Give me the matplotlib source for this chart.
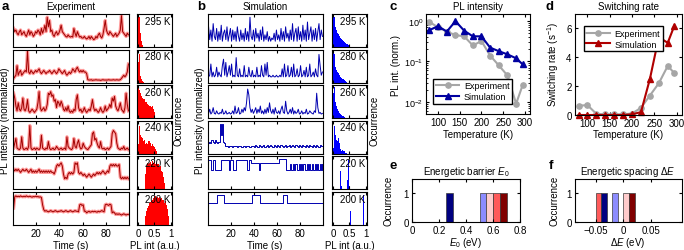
import numpy as np
import matplotlib
matplotlib.use("Agg")
import matplotlib.pyplot as plt

plt.rcParams['font.family'] = ['Liberation Sans', 'DejaVu Sans']
plt.rcParams['font.size'] = 7
plt.rcParams['mathtext.fontset'] = 'custom'
plt.rcParams['mathtext.rm'] = 'Liberation Sans'
plt.rcParams['mathtext.it'] = 'Liberation Sans:italic'
plt.rcParams['axes.linewidth'] = 0.8
plt.rcParams['xtick.direction'] = 'in'
plt.rcParams['ytick.direction'] = 'in'
plt.rcParams['xtick.major.size'] = 2
plt.rcParams['ytick.major.size'] = 2
plt.rcParams['xtick.minor.size'] = 1.2
plt.rcParams['ytick.minor.size'] = 1.2
plt.rcParams['xtick.major.pad'] = 2.5
plt.rcParams['ytick.major.pad'] = 2.5

# ---------------- data ----------------
row_labels = ['295 K', '280 K', '260 K', '240 K', '220 K', '200 K']

# experiment traces (normalized PL, 1 s samples)
exp_295 = [0.55,0.45,0.5,0.4,0.35,0.45,0.5,0.35,0.4,0.45, 0.35,0.3,0.4,0.5,0.35,0.45,0.4,0.3,0.35,0.45,
           0.4,0.5,0.45,0.35,0.55,0.4,0.5,0.65,0.45,0.9, 0.6,0.8,0.45,0.5,0.35,0.3,0.4,0.45,0.35,0.4,
           0.5,0.65,0.45,0.4,0.35,0.3,0.28,0.35,0.3,0.28, 0.3,0.28,0.55,0.4,0.3,0.45,0.35,0.28,0.3,0.25,
           0.25,0.3,0.25,0.22,0.25,0.3,0.22,0.3,0.25,0.2, 0.22,0.3,0.25,0.35,0.4,0.3,0.25,0.35,0.55,0.8,
           0.5,0.4,0.35,0.45,0.4,0.35,0.3,0.35,0.4,0.3, 0.35,0.4,0.5,0.95,0.45,0.4,0.35,0.3,0.4,0.35]
exp_280 = [0.1,0.15,0.2,0.5,0.2,0.3,0.35,0.2,0.25,0.3, 0.35,0.3,0.95,0.3,0.25,0.35,0.3,0.25,0.3,0.35,
           0.3,0.35,0.4,0.3,0.25,0.3,0.35,0.3,0.25,0.3, 0.3,0.35,0.3,0.25,0.3,0.35,0.3,0.25,0.3,0.4,
           0.35,0.3,0.25,0.3,0.35,0.25,0.2,0.25,0.3,0.25, 0.3,0.4,0.35,0.3,0.4,0.45,0.35,0.3,0.35,0.3,
           0.35,0.3,0.3,0.25,0.06,0.05,0.05,0.06,0.04,0.05, 0.05,0.06,0.05,0.05,0.05,0.04,0.05,0.06,0.05,0.05,
           0.05,0.05,0.06,0.05,0.05,0.05,0.06,0.05,0.05,0.06, 0.05,0.05,0.06,0.1,0.15,0.2,0.15,0.2,0.3,0.55]
exp_260 = [0.75,0.6,0.35,0.2,0.45,0.25,0.2,0.3,0.6,0.25, 0.2,0.3,0.55,0.2,0.15,0.2,0.25,0.2,0.15,0.2,
           0.25,0.45,0.8,0.3,0.2,0.25,0.3,0.2,0.25,0.4, 0.75,0.7,0.8,0.65,0.7,0.5,0.55,0.3,0.5,0.45,
           0.35,0.5,0.4,0.25,0.2,0.3,0.2,0.35,0.2,0.15, 0.2,0.15,0.25,0.2,0.55,0.7,0.3,0.2,0.25,0.15,
           0.2,0.3,0.2,0.15,0.2,0.25,0.2,0.35,0.55,0.3, 0.2,0.25,0.2,0.15,0.2,0.3,0.2,0.15,0.2,0.35,
           0.2,0.25,0.3,0.4,0.3,0.6,0.5,0.65,0.35,0.25, 0.2,0.3,0.45,0.25,0.2,0.15,0.3,0.75,0.4,0.2]
exp_240 = [0.15,0.3,0.45,0.15,0.12,0.1,0.15,0.5,0.15,0.1, 0.12,0.15,0.1,0.2,0.85,0.15,0.1,0.12,0.15,0.1,
           0.15,0.12,0.1,0.15,0.55,0.15,0.12,0.1,0.15,0.12, 0.35,0.15,0.1,0.12,0.15,0.1,0.12,0.2,0.15,0.1,
           0.12,0.15,0.1,0.12,0.15,0.1,0.5,0.2,0.15,0.12, 0.1,0.15,0.45,0.2,0.15,0.3,0.4,0.2,0.12,0.15,
           0.3,0.2,0.15,0.12,0.1,0.15,0.2,0.25,0.6,0.65, 0.4,0.45,0.3,0.2,0.15,0.35,0.15,0.12,0.15,0.1,
           0.12,0.15,0.1,0.15,0.2,0.6,0.7,0.65,0.6,0.3, 0.15,0.12,0.1,0.15,0.12,0.2,0.1,0.12,0.15,0.1]
exp_220 = [0.6,0.55,0.6,0.55,0.6,0.55,0.5,0.55,0.6,0.55, 0.55,0.6,0.55,0.5,0.55,0.6,0.5,0.55,0.5,0.55,
           0.5,0.55,0.6,0.5,0.55,0.5,0.55,0.5,0.55,0.5, 0.55,0.5,0.55,0.5,0.5,0.45,0.55,0.7,0.75,0.7,
           0.75,0.8,0.7,0.45,0.3,0.35,0.3,0.45,0.5,0.45, 0.5,0.45,0.5,0.8,0.75,0.8,0.5,0.45,0.5,0.45,
           0.4,0.45,0.4,0.35,0.4,0.45,0.4,0.35,0.4,0.45, 0.4,0.45,0.5,0.45,0.5,0.45,0.5,0.55,0.5,0.45,
           0.5,0.55,0.5,0.7,0.75,0.7,0.75,0.7,0.75,0.7, 0.7,0.75,0.35,0.3,0.35,0.3,0.35,0.3,0.35,0.3]
exp_200 = [0.5,0.85,0.88,0.85,0.87,0.85,0.88,0.86,0.85,0.87, 0.85,0.88,0.86,0.85,0.87,0.85,0.84,0.86,0.85,0.87,
           0.85,0.86,0.84,0.85,0.83,0.6,0.45,0.4,0.42,0.4, 0.38,0.4,0.42,0.4,0.38,0.4,0.42,0.4,0.38,0.4,
           0.4,0.42,0.4,0.38,0.4,0.42,0.4,0.38,0.4,0.42, 0.4,0.38,0.4,0.42,0.4,0.4,0.38,0.6,0.62,0.58,
           0.6,0.4,0.4,0.35,0.38,0.4,0.37,0.38,0.4,0.38, 0.4,0.38,0.37,0.4,0.38,0.4,0.42,0.4,0.38,0.6,
           0.62,0.6,0.58,0.62,0.6,0.35,0.38,0.35,0.3,0.32, 0.3,0.32,0.3,0.28,0.3,0.32,0.3,0.28,0.3,0.3]

# simulation traces
sim_295 = [0.6,0.2,0.5,0.15,0.7,0.3,0.2,0.55,0.15,0.45, 0.2,0.65,0.15,0.4,0.5,0.2,0.6,0.15,0.35,0.55,
           0.15,0.5,0.2,0.45,0.15,0.6,0.3,0.15,0.5,0.2, 0.4,0.15,0.55,0.2,0.45,0.15,0.9,0.3,0.2,0.5,
           0.15,0.55,0.25,0.4,0.15,0.5,0.2,0.6,0.15,0.35, 0.2,0.45,0.15,0.3,0.15,0.25,0.2,0.4,0.15,0.5,
           0.2,0.35,0.15,0.55,0.2,0.45,0.15,0.6,0.25,0.4, 0.15,0.5,0.2,0.7,0.15,0.4,0.55,0.15,0.6,0.2,
           0.45,0.15,0.65,0.2,0.5,0.15,0.75,0.2,0.4,0.6, 0.15,0.5,0.2,0.55,0.15,0.45,0.7,0.2,0.5,0.3]
sim_280 = [0.15,0.2,0.55,0.15,0.3,0.15,0.2,0.45,0.15,0.3, 0.2,0.15,0.5,0.7,0.2,0.6,0.15,0.3,0.5,0.2,
           0.55,0.15,0.2,0.15,0.75,0.2,0.15,0.4,0.15,0.2, 0.15,0.5,0.15,0.2,0.15,0.45,0.2,0.15,0.35,0.15,
           0.2,0.15,0.45,0.15,0.2,0.15,0.5,0.2,0.15,0.55, 0.2,0.6,0.15,0.2,0.15,0.15,0.2,0.15,0.15,0.2,
           0.15,0.15,0.2,0.15,0.4,0.15,0.55,0.15,0.2,0.5, 0.15,0.2,0.45,0.15,0.55,0.15,0.2,0.4,0.15,0.2,
           0.5,0.15,0.2,0.35,0.15,0.45,0.15,0.2,0.55,0.15, 0.2,0.3,0.15,0.4,0.2,0.15,0.85,0.5,0.2,0.3]
sim_260 = [0.12,0.25,0.1,0.15,0.3,0.12,0.1,0.2,0.12,0.1, 0.15,0.12,0.25,0.1,0.12,0.2,0.1,0.12,0.15,0.1,
           0.12,0.2,0.1,0.35,0.12,0.15,0.3,0.1,0.12,0.25, 0.15,0.3,0.2,0.45,0.88,0.7,0.3,0.15,0.25,0.12,
           0.2,0.3,0.12,0.25,0.15,0.35,0.12,0.2,0.1,0.25, 0.12,0.3,0.15,0.45,0.2,0.12,0.25,0.1,0.3,0.15,
           0.12,0.2,0.1,0.25,0.35,0.15,0.12,0.5,0.2,0.1, 0.15,0.25,0.12,0.3,0.1,0.2,0.12,0.15,0.25,0.1,
           0.12,0.2,0.1,0.15,0.12,0.25,0.1,0.12,0.2,0.15, 0.12,0.1,0.2,0.15,0.75,0.3,0.12,0.15,0.1,0.12]
sim_240 = [0.3,0.35,0.3,0.4,0.35,0.3,0.4,0.35,0.3,0.35, 0.9,0.55,0.9,0.35,0.3,0.2,0.22,0.18,0.2,0.22,
           0.2,0.18,0.2,0.22,0.2,0.18,0.2,0.2,0.22,0.18, 0.2,0.2,0.18,0.22,0.2,0.2,0.18,0.2,0.22,0.2,
           0.18,0.25,0.2,0.18,0.25,0.2,0.18,0.2,0.25,0.18, 0.2,0.25,0.18,0.2,0.25,0.2,0.18,0.25,0.2,0.18,
           0.25,0.2,0.18,0.25,0.2,0.18,0.2,0.25,0.18,0.2, 0.25,0.18,0.2,0.25,0.2,0.18,0.25,0.2,0.18,0.25,
           0.2,0.18,0.25,0.2,0.18,0.25,0.2,0.18,0.25,0.2, 0.18,0.25,0.2,0.18,0.25,0.2,0.18,0.25,0.2,0.2]
sim_220 = [0.9,0.9,0.9,0.58,0.9,0.9,0.58,0.58,0.58,0.58, 0.58,0.9,0.9,0.9,0.9,0.9,0.9,0.9,0.58,0.9,
           0.9,0.9,0.58,0.58,0.9,0.9,0.9,0.9,0.9,0.9, 0.9,0.9,0.9,0.9,0.58,0.58,0.9,0.78,0.78,0.78,
           0.78,0.78,0.78,0.78,0.58,0.78,0.78,0.78,0.78,0.78, 0.78,0.78,0.78,0.78,0.78,0.78,0.78,0.78,0.78,0.78,
           0.78,0.78,0.92,0.92,0.92,0.92,0.92,0.92,0.58,0.58, 0.58,0.75,0.58,0.58,0.75,0.58,0.75,0.58,0.58,0.75,
           0.58,0.75,0.58,0.75,0.58,0.58,0.75,0.58,0.75,0.58, 0.75,0.58,0.58,0.75,0.58,0.75,0.58,0.75,0.58,0.75]
sim_200 = [0.65,0.65,0.65,0.65,0.65,0.65,0.65,0.65,0.9,0.9, 0.9,0.9,0.9,0.9,0.65,0.65,0.65,0.65,0.65,0.65,
           0.65,0.65,0.65,0.65,0.65,0.65,0.65,0.65,0.65,0.65, 0.65,0.65,0.65,0.65,0.65,0.65,0.65,0.65,0.9,0.9,
           0.9,0.9,0.9,0.9,0.9,0.65,0.65,0.65,0.65,0.65, 0.65,0.65,0.65,0.65,0.65,0.65,0.65,0.65,0.65,0.65,
           0.65,0.65,0.65,0.65,0.65,0.9,0.9,0.9,0.9,0.65, 0.65,0.65,0.65,0.65,0.65,0.65,0.65,0.65,0.65,0.65,
           0.65,0.65,0.65,0.65,0.65,0.65,0.65,0.65,0.65,0.65, 0.65,0.65,0.65,0.65,0.65,0.65,0.65,0.65,0.65,0.65]

# histograms of PL intensity, bins of 0.025 starting at 0
hist_bin = 0.025
exp_hist_295 = [1.0,0.95,0.7,0.45,0.2,0.05]
exp_hist_280 = [0.65,0.9,0.4,0.2,0.1,0.05,0.02]
exp_hist_260 = [0.95,0.9,0.85,0.8,0.7,0.65,0.6,0.62,0.55,0.5,0.5,0.45,0.42,0.45,0.4,0.38,0.35,0.38,0.3,0.35,0.2]
exp_hist_240 = [0.3,0.9,0.85,0.6,0.55,0.5,0.4,0.45,0.35,0.3,0.35,0.3,0.4,0.38,0.42,0.35,0.25,0.3,0.25,0.2,0.22,0.15,0.1]
exp_hist_220 = [0,0,0,0,0,0,0,0,0.1,0.5,0.75,0.85,0.8,0.9,0.85,0.88,0.82,0.9,0.85,0.8,0.88,0.82,0.85,0.8,
                0.75,0.8,0.7,0.75,0.6,0.55,0.45,0.4,0.2]
exp_hist_200 = [0,0,0,0,0,0,0,0,0.15,0.3,0.45,0.55,0.6,0.65,0.7,0.72,0.75,0.8,0.85,0.9,0.88,0.92,0.85,0.9,
                0.88,0.85,0.9,0.82,0.85,0.8,0.75,0.78,0.7,0.75,0.65,0.6,0.5,0.3]
sim_hist_295 = [1.0,0.95,0.8,0.65,0.55,0.45,0.4,0.35,0.3,0.28,0.25,0.22,0.2,0.18,0.15,0.12,0.1,0.08,0.05,0.03]
sim_hist_280 = [1.0,0.9,0.7,0.5,0.4,0.35,0.3,0.25,0.2,0.18,0.15,0.12,0.1,0.1,0.08,0.05,0.03]
sim_hist_260 = [0.8,1.0,0.75,0.5,0.4,0.3,0.22,0.18,0.15,0.12,0.1,0.08,0.06,0.05,0.03,0.02]
sim_hist_240 = [0.2,0.9,0.55,0.6,0.45,0.4,0.5,0.35,0.3,0.15,0.1,0.12,0.08,0.05,0.08,0.03,0.02]
sim_hist_220 = [0,0,0,0,0,0,0,0,0.15,0.6,0.1,0,0,0,0,0,0,0.3,0.95,0.5,0.1]
sim_hist_200 = [0,0,0,0,0,0,0,0,0,0,0,0,0,0,0,0,0,0,0,0,0,0.45,0,0,0,0,0,0,0,0,0,0,0,0,0,0,0,0.95]

exp_traces = [exp_295, exp_280, exp_260, exp_240, exp_220, exp_200]
sim_traces = [sim_295, sim_280, sim_260, sim_240, sim_220, sim_200]
exp_hists = [exp_hist_295, exp_hist_280, exp_hist_260, exp_hist_240, exp_hist_220, exp_hist_200]
sim_hists = [sim_hist_295, sim_hist_280, sim_hist_260, sim_hist_240, sim_hist_220, sim_hist_200]

# temperature dependence
temperature = [80, 100, 120, 140, 160, 180, 200, 220, 240, 260, 280, 295]
pl_exp = [0.95, 0.7, 0.55, 0.45, 0.42, 0.25, 0.32, 0.14, 0.08, 0.045, 0.009, 0.026]
pl_sim = [0.6, 0.75, 0.55, 1.0, 0.58, 0.42, 0.42, 0.22, 0.18, 0.15, 0.12, 0.085]
rate_exp = [0.65, 0.68, 0.08, 0.05, 0.05, 0.05, 0.1, 0.5, 1.35, 2.2, 3.4, 2.9]
rate_sim = [0, 0, 0, 0, 0, 0, 0.05, 0.2, 2.5, 5.4, 5.0, 6.2]

# fitted energies
e0_left = [0.25, 0.50, 0.55, 0.60, 0.65]
e0_count = [1, 1, 1, 1, 1]
e0_colors = ['#000080', '#8c8cff', '#ffcccc', '#ff5a5a', '#800000']
de_left = [-0.05, -0.04, -0.02, 0.0, 0.01]
de_count = [1, 1, 1, 1, 1]
de_colors = ['#ff5a5a', '#000080', '#8c8cff', '#ffcccc', '#800000']

# ---------------- layout helpers ----------------
W, H = 684, 251
fig = plt.figure(figsize=(W / 100, H / 100), dpi=100)


def add_ax(l, t, r, b):
    return fig.add_axes([l / W, 1 - b / H, (r - l) / W, (b - t) / H])


def ftext(x, y, s, **kw):
    fig.text(x / W, 1 - y / H, s, **kw)


time = np.arange(100) + 0.5
row_h = 33
row_step = 35.6


def trace_column(x0, x1, hx0, hx1, traces, hists, line_col, raw_col, hist_col, step_rows):
    for i in range(6):
        top = 15 + i * row_step
        bot = top + row_h
        ax = add_ax(x0, top, x1, bot)
        y = traces[i]
        if raw_col is not None:
            ax.plot(time, y, color=raw_col, lw=2.4, solid_joinstyle='round')
            ax.plot(time, y, color=line_col, lw=0.7)
        else:
            ax.plot(time, y, color=line_col, lw=0.7,
                    drawstyle='steps-mid' if i in step_rows else 'default')
        ax.set_xlim(0, 100)
        ax.set_ylim(-0.03, 1.0)
        ax.set_xticks([20, 40, 60, 80])
        ax.set_yticks([])
        ax.tick_params(top=True, right=True, labelsize=7)
        if i < 5:
            ax.set_xticklabels([])

        hx = add_ax(hx0, top, hx1, bot)
        h = hists[i]
        centers = (np.arange(len(h)) + 0.5) * hist_bin
        hx.bar(centers, h, width=hist_bin, color=hist_col, lw=0)
        hx.set_xlim(-0.03, 1.04)
        hx.set_ylim(0, 1.05)
        hx.set_xticks([0, 0.5, 1])
        hx.set_xticklabels(['0', '0.5', '1'])
        hx.set_yticks([])
        hx.tick_params(top=True, labelsize=7)
        if i < 5:
            hx.set_xticklabels([])
        hx.text(0.6, 0.8, row_labels[i], transform=hx.transAxes,
                ha='center', va='center', fontsize=7)


trace_column(13, 129, 137, 172, exp_traces, exp_hists,
             '#a00000', '#ff9c9c', '#ff0000', [])
trace_column(208, 323, 332, 367, sim_traces, sim_hists,
             '#0000b0', None, '#0000ff', [3, 4, 5])

# column labels
ftext(71, 7, 'Experiment', ha='center', va='center', fontsize=7)
ftext(265, 7, 'Simulation', ha='center', va='center', fontsize=7)
ftext(71, 246, 'Time (s)', ha='center', va='center', fontsize=7)
ftext(265, 246, 'Time (s)', ha='center', va='center', fontsize=7)
ftext(155, 246, 'PL int (a.u.)', ha='center', va='center', fontsize=7)
ftext(350, 246, 'PL int (a.u.)', ha='center', va='center', fontsize=7)
ftext(5, 121, 'PL intensity (normalized)', rotation=90, ha='center', va='center', fontsize=7)
ftext(200, 121, 'PL intensity (normalized)', rotation=90, ha='center', va='center', fontsize=7)
ftext(178, 121, 'Occurrence', rotation=90, ha='center', va='center', fontsize=7)
ftext(374, 121, 'Occurrence', rotation=90, ha='center', va='center', fontsize=7)

# ---------------- panel c ----------------
grey = '#a6a6a6'
axc = add_ax(426, 15, 530, 115)
axc.semilogy(temperature, pl_exp, '-o', color=grey, mfc=grey, mec=grey, lw=1.5, ms=3.8,
             label='Experiment')
axc.semilogy(temperature, pl_sim, '-^', color='#0000a0', mfc='#0000a0', mec='#0000a0', lw=1.5,
             ms=4.2, label='Simulation')
axc.set_xlim(72, 312)
axc.set_ylim(0.005, 1.5)
axc.set_xticks([100, 150, 200, 250, 300])
axc.set_yticks([1, 0.1, 0.01])
axc.tick_params(which='both', top=True, right=True, labelsize=7)
axc.tick_params(axis='y', labelsize=6.5, pad=2)
axc.legend(loc='lower left', bbox_to_anchor=(0.07, 0.1), fontsize=6.5, frameon=True,
           fancybox=False, edgecolor='k', framealpha=1, handlelength=2.6,
           borderpad=0.3, labelspacing=0.2, handletextpad=0.5, borderaxespad=0)
ftext(478, 7, 'PL intensity', ha='center', va='center', fontsize=7)
ftext(478, 135, 'Temperature (K)', ha='center', va='center', fontsize=7)
ftext(396, 65, 'PL int. (norm.)', rotation=90, ha='center', va='center', fontsize=7)

# ---------------- panel d ----------------
axd = add_ax(575, 15, 682, 116)
axd.plot(temperature, rate_exp, '-o', color=grey, mfc=grey, mec=grey, lw=1.5, ms=3.8,
         label='Experiment')
axd.plot(temperature, rate_sim, '-^', color='#b00000', mfc='#b00000', mec='#b00000', lw=1.5,
         ms=4.2, label='Simulation', clip_on=False)
axd.set_xlim(72, 312)
axd.set_ylim(0, 7)
axd.set_xticks([100, 150, 200, 250, 300])
axd.set_yticks([0, 2, 4, 6])
axd.tick_params(top=True, right=True, labelsize=7)
axd.legend(loc='upper left', bbox_to_anchor=(0.08, 0.88), fontsize=6.5, frameon=True,
           fancybox=False, edgecolor='k', framealpha=1, handlelength=2.6,
           borderpad=0.3, labelspacing=0.2, handletextpad=0.5, borderaxespad=0)
ftext(628, 7, 'Switching rate', ha='center', va='center', fontsize=7)
ftext(628, 135, 'Temperature (K)', ha='center', va='center', fontsize=7)
ftext(553, 65, 'Switching rate (s$^{-1}$)', rotation=90, ha='center', va='center', fontsize=7)

# ---------------- panel e ----------------
axe = add_ax(412, 180, 520, 223)
axe.bar(e0_left, e0_count, width=0.05, align='edge', color=e0_colors,
        edgecolor='#3a3a3a', lw=0.5)
axe.set_xlim(0, 0.8)
axe.set_ylim(0, 1.5)
axe.set_xticks([0, 0.2, 0.4, 0.6, 0.8])
axe.set_xticklabels(['0', '0.2', '0.4', '0.6', '0.8'])
axe.set_yticks([0, 1])
axe.tick_params(top=True, right=True, labelsize=7)
ftext(466, 172, 'Energetic barrier $\\mathit{E}_0$', ha='center', va='center', fontsize=7)
ftext(466, 243, '$\\mathit{E}_0$ (eV)', ha='center', va='center', fontsize=7)
ftext(389, 201, 'Occurrence', rotation=90, ha='center', va='center', fontsize=7)

# ---------------- panel f ----------------
axf = add_ax(575, 180, 682, 223)
axf.bar(de_left, de_count, width=0.01, align='edge', color=de_colors,
        edgecolor='#3a3a3a', lw=0.5)
axf.set_xlim(-0.087, 0.105)
axf.set_ylim(0, 1.5)
axf.set_xticks([-0.05, 0, 0.05])
axf.set_xticklabels(['\u22120.05', '0', '0.05'])
axf.set_yticks([0, 1])
axf.tick_params(top=True, right=True, labelsize=7)
ftext(628, 172, 'Energetic spacing $\\Delta\\mathit{E}$', ha='center', va='center', fontsize=7)
ftext(628, 243, '$\\Delta\\mathit{E}$ (eV)', ha='center', va='center', fontsize=7)
ftext(555, 201, 'Occurrence', rotation=90, ha='center', va='center', fontsize=7)

# panel letters
for x, y, s in [(2, 0.5, 'a'), (197, 0.5, 'b'), (390, 0.5, 'c'), (545, 0.5, 'd'),
                (390, 160, 'e'), (549, 160, 'f')]:
    ftext(x, y, s, ha='left', va='top', fontsize=9.5, fontweight='bold')

fig.savefig('out.png', dpi=100)
